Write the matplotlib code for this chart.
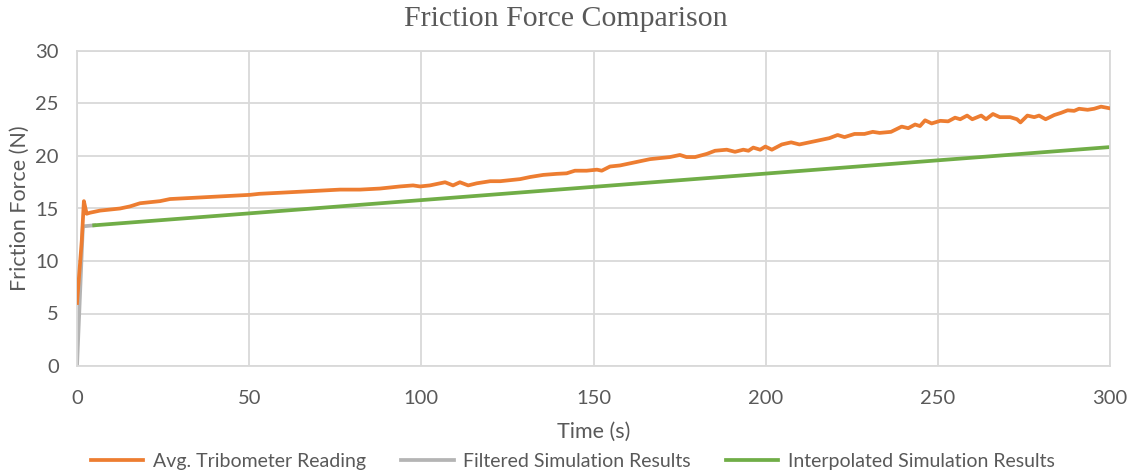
import matplotlib
matplotlib.use("Agg")
import matplotlib.pyplot as plt

# ---- data ----
trib_t = [0, 1.4, 2.0, 2.8, 3.8, 6.7, 9.6, 12.5, 15.4, 18.3, 21.2, 24.1, 27, 32.8, 38.6,
          44.4, 50.2, 53, 59, 64.8, 70.6, 76.4, 82.2, 88, 93.8, 97.6, 99.6, 102.5, 106.9,
          109.2, 111.2, 113.6, 116.1, 120, 122.9, 125.8, 128.7, 131.6, 135.4, 139.3, 142.2,
          144.6, 148, 151, 152.4, 154.8, 157.7, 160.6, 163.5, 166.4, 169.3, 172.2, 175.1,
          177, 179.5, 182.9, 185.3, 188.7, 191.1, 193.5, 195, 196.4, 198.4, 199.9, 201.8,
          204.7, 207.4, 209.8, 212.7, 215.6, 218.5, 220.9, 222.9, 225.8, 228.7, 231.1,
          233.1, 236.4, 239.5, 241.4, 243.4, 244.8, 246.3, 248.2, 250.7, 253, 255, 256.5,
          258.5, 260, 262.6, 264, 266, 268, 271, 273, 274, 276, 278, 279.4, 281.3, 283.8,
          285.7, 287.7, 289.6, 291, 293.5, 295.4, 297.4, 299.8]
trib_f = [6.0, 12.0, 15.7, 14.5, 14.6, 14.8, 14.9, 15.0, 15.2, 15.5, 15.6, 15.7, 15.9, 16.0,
          16.1, 16.2, 16.3, 16.4, 16.5, 16.6, 16.7, 16.8, 16.8, 16.9, 17.1, 17.2, 17.1, 17.2,
          17.5, 17.2, 17.5, 17.2, 17.4, 17.6, 17.6, 17.7, 17.8, 18.0, 18.2, 18.3, 18.35,
          18.6, 18.6, 18.7, 18.6, 19.0, 19.1, 19.3, 19.5, 19.7, 19.8, 19.9, 20.1, 19.9,
          19.9, 20.2, 20.5, 20.6, 20.4, 20.6, 20.5, 20.8, 20.6, 20.9, 20.6, 21.1, 21.3,
          21.1, 21.3, 21.5, 21.7, 22.0, 21.8, 22.1, 22.1, 22.3, 22.2, 22.3, 22.8, 22.65,
          23.0, 22.85, 23.4, 23.1, 23.35, 23.3, 23.65, 23.5, 23.85, 23.5, 23.85, 23.5, 24.0,
          23.7, 23.7, 23.5, 23.2, 23.85, 23.7, 23.85, 23.5, 23.9, 24.1, 24.35, 24.3, 24.5,
          24.4, 24.5, 24.7, 24.55]

filt_t = [0, 1.7, 5.0]
filt_f = [0.0, 13.3, 13.4]

interp_t = [5.0, 300.0]
interp_f = [13.4, 20.85]

labels = ["Avg. Tribometer Reading", "Filtered Simulation Results",
          "Interpolated Simulation Results"]
x_ticks = [0, 50, 100, 150, 200, 250, 300]
y_ticks = [0, 5, 10, 15, 20, 25, 30]

# ---- figure ----
W, H = 1131, 473
fig = plt.figure(figsize=(W / 100, H / 100), dpi=100)
ax = fig.add_axes([77 / W, 1 - 366 / H, (1110 - 77) / W, (366 - 51) / H])

txt = "#595959"
grid_c = "#d9d9d9"
font = ["Lato", "DejaVu Sans"]

ax.plot(trib_t, trib_f, color="#ED7D31", lw=2.7, label=labels[0], zorder=3,
        solid_joinstyle="round")
ax.plot(filt_t, filt_f, color="#B4B4B4", lw=2.7, label=labels[1], zorder=2)
ax.plot(interp_t, interp_f, color="#70AD47", lw=2.7, label=labels[2], zorder=2.5)

ax.set_xlim(0, 300)
ax.set_ylim(0, 30)
ax.set_xticks(x_ticks)
ax.set_yticks(y_ticks)
ax.grid(True, color=grid_c, lw=1.3)
ax.set_axisbelow(True)
for s in ax.spines.values():
    s.set_color(grid_c)
    s.set_linewidth(1.3)
ax.tick_params(length=0, labelsize=14.5, labelcolor=txt)
ax.tick_params(axis="x", pad=17)
ax.tick_params(axis="y", pad=13)
for lab in ax.get_xticklabels() + ax.get_yticklabels():
    lab.set_family(font)

ax.set_xlabel("Time (s)", fontsize=15.5, color=txt, family=font, labelpad=11)
ax.set_ylabel("Friction Force (N)", fontsize=15.5, color=txt, family=font, labelpad=4)

fig.text(0.5, 1 - 19 / H, "Friction Force Comparison", ha="center", va="center",
         fontsize=21.5, color=txt, family=["Liberation Serif", "DejaVu Serif"])

leg = fig.legend(loc="center", bbox_to_anchor=(0.5 + 7.5 / W, 1 - 461 / H), ncol=3,
                 frameon=False, prop={"family": font, "size": 14}, handlelength=2.7,
                 columnspacing=1.8, handletextpad=0.5)
for t in leg.get_texts():
    t.set_color(txt)

fig.savefig("out.png", dpi=100)
